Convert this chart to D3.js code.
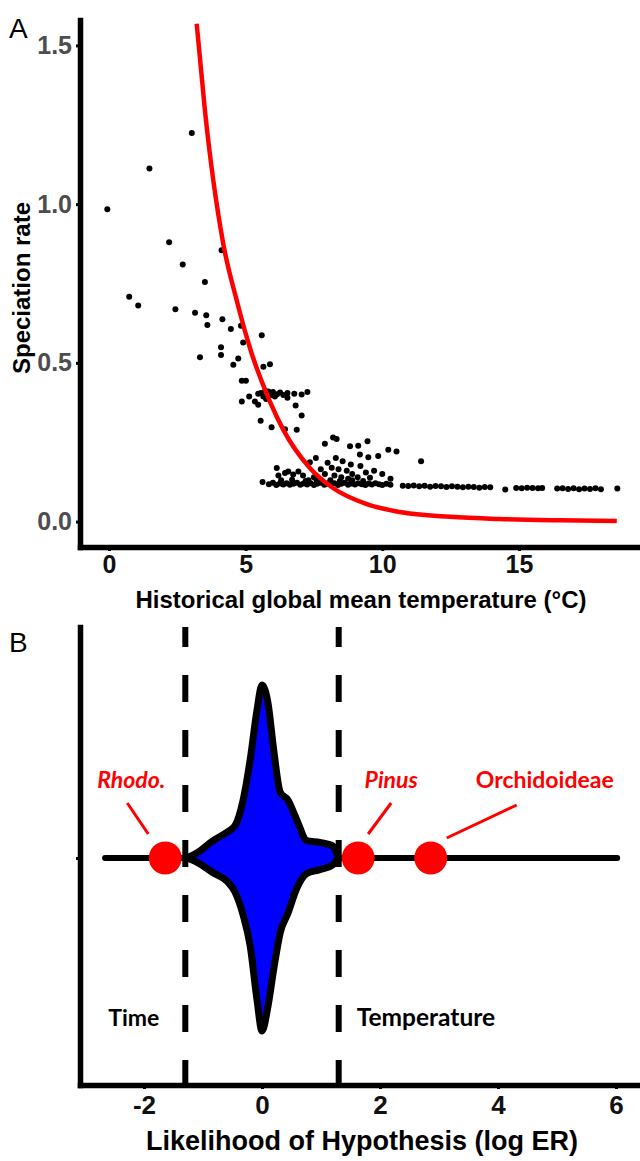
<!DOCTYPE html>
<html>
<head>
<meta charset="utf-8">
<script src="https://cdn.jsdelivr.net/npm/d3@7"></script>
<style>
body { margin: 0; background: #fff; }
svg { display: block; }
.axis text { font-family: "Liberation Sans", Arial, sans-serif; font-weight: bold; font-size: 25px; }
.axisB text { font-size: 26px; }
.axisTitle { font-family: "Liberation Sans", Arial, sans-serif; font-weight: bold; font-size: 24px; fill: #000; }
.panelLabel { font-family: "Liberation Sans", Arial, sans-serif; font-size: 28px; fill: #000; }
.note { font-family: Lato, "Open Sans", sans-serif; font-weight: bold; font-size: 23px; }
</style>
</head>
<body>
<div class="chart"></div>
<script>
var svgWidth = 640;
var svgHeight = 1161;

// ---- panel A data: speciation rate vs historical temperature ----
var temps = [
  3.03, 1.48, -0.06, 2.20, 4.12, 2.70, 3.51, 0.74, 1.07, 2.43, 3.15, 3.56, 3.60, 4.15, 4.46, 4.83, 5.59, 4.91, 4.10, 4.10,
  3.33, 4.73, 4.55, 5.65, 5.89, 4.86, 5.01, 5.56, 5.46, 5.65, 5.83, 5.95, 6.07, 6.26, 6.38, 6.53, 6.53, 6.78, 7.05, 7.26,
  4.86, 5.13, 5.34, 5.46, 6.83, 7.05, 5.55, 5.95, 6.44, 6.87, 5.75, 6.15, 5.72, 6.00, 7.90, 8.20, 8.33, 8.82, 9.12, 9.46,
  10.22, 10.52, 9.18, 9.49, 9.85, 11.42, 7.57, 7.35, 6.14, 8.85, 9.20, 8.55, 8.30, 8.00, 8.15, 8.40, 8.70, 8.90, 9.40, 9.70,
  10.00, 7.75, 7.90, 8.25, 8.50, 8.75, 9.10, 9.55, 10.30, 6.44, 6.56, 6.74, 6.93, 7.10, 6.20, 7.50, 7.30, 8.10, 9.30,
  5.62, 5.85, 6.00, 6.12, 6.25, 6.38, 6.50, 6.62, 6.75, 6.88, 7.00, 7.12, 7.25, 7.38, 7.50, 7.62, 7.75, 7.88, 8.00, 8.12,
  8.25, 8.38, 8.50, 8.62, 8.75, 8.88, 9.00, 9.12, 9.25, 9.38, 9.50, 9.62, 9.75, 9.88, 10.00, 10.15, 10.30,
  6.30, 6.70, 7.20, 7.60, 8.45, 8.90,
  10.75, 10.95, 11.15, 11.35, 11.55, 11.75, 11.95, 12.15, 12.35, 12.55, 12.75, 12.95, 13.15, 13.35, 13.55, 13.75, 13.95,
  14.50, 14.90, 15.10, 15.30, 15.50, 15.70, 15.85,
  16.40, 16.60, 16.80, 17.00, 17.20, 17.40, 17.60, 17.80, 18.00, 18.60
];
var rates = [
  1.224, 1.112, 0.984, 0.880, 0.855, 0.810, 0.755, 0.708, 0.681, 0.669, 0.658, 0.650, 0.619, 0.637, 0.607, 0.617, 0.587, 0.564, 0.549, 0.525,
  0.518, 0.514, 0.494, 0.488, 0.496, 0.444, 0.444, 0.405, 0.403, 0.394, 0.410, 0.399, 0.394, 0.407, 0.399, 0.405, 0.390, 0.403, 0.400, 0.408,
  0.378, 0.394, 0.378, 0.368, 0.366, 0.334, 0.318, 0.297, 0.291, 0.289, 0.386, 0.401, 0.412, 0.408, 0.245, 0.265, 0.260, 0.237, 0.239, 0.253,
  0.226, 0.221, 0.211, 0.203, 0.207, 0.190, 0.200, 0.187, 0.169, 0.180, 0.175, 0.190, 0.200, 0.185, 0.170, 0.165, 0.160, 0.150, 0.155, 0.160,
  0.150, 0.165, 0.150, 0.145, 0.140, 0.135, 0.140, 0.138, 0.135, 0.153, 0.158, 0.148, 0.158, 0.145, 0.145, 0.140, 0.130, 0.130, 0.128,
  0.125, 0.118, 0.122, 0.115, 0.120, 0.117, 0.121, 0.116, 0.119, 0.122, 0.116, 0.120, 0.117, 0.121, 0.115, 0.119, 0.122, 0.116, 0.120, 0.117,
  0.121, 0.115, 0.119, 0.122, 0.116, 0.120, 0.117, 0.121, 0.118, 0.115, 0.120, 0.117, 0.121, 0.118, 0.115, 0.119, 0.116,
  0.130, 0.132, 0.128, 0.130, 0.128, 0.130,
  0.113, 0.112, 0.114, 0.111, 0.113, 0.110, 0.112, 0.111, 0.109, 0.111, 0.110, 0.108, 0.110, 0.109, 0.107, 0.109, 0.108,
  0.101, 0.106, 0.105, 0.107, 0.106, 0.105, 0.106,
  0.104, 0.105, 0.103, 0.105, 0.102, 0.104, 0.103, 0.105, 0.102, 0.104
];
// fitted curve
var fitTemps = [3.21, 3.51, 4.18, 4.67, 5.22, 5.89, 6.38, 7.35, 8.21, 9.43, 10.65, 12.48, 14.30, 16.50, 18.58];
var fitRates = [1.568, 1.296, 0.876, 0.698, 0.530, 0.378, 0.289, 0.169, 0.105, 0.055, 0.030, 0.015, 0.008, 0.004, 0.002];
var xTicksA = [0, 5, 10, 15];
var yTicksA = [0, 0.5, 1.0, 1.5];

// ---- panel B data: distribution of log ER ----
var densityX    = [-1.27, -1.10, -0.83, -0.59, -0.46, -0.32, -0.20, -0.085, 0, 0.10, 0.20, 0.31, 0.44, 0.59, 0.76, 0.98, 1.20, 1.29];
var densityUp   = [0, 0.030, 0.100, 0.150, 0.185, 0.335, 0.570, 0.855, 1.0, 0.900, 0.620, 0.380, 0.335, 0.220, 0.100, 0.090, 0.070, 0];
var densityDown = [0, 0.025, 0.085, 0.135, 0.195, 0.330, 0.510, 0.820, 1.0, 0.860, 0.640, 0.430, 0.320, 0.175, 0.090, 0.068, 0.040, 0];
var erRange = [-2.66, 6.02];
var thresholds = [-1.3, 1.3];
var clades = ["Rhodo.", "Pinus", "Orchidoideae"];
var cladeER = [-1.64, 1.63, 2.86];
var hypotheses = ["Time", "Temperature"];
var xTicksB = [-2, 0, 2, 4, 6];

var svg = d3.select(".chart")
  .append("svg")
  .attr("width", svgWidth)
  .attr("height", svgHeight);

svg.append("rect").attr("width", svgWidth).attr("height", svgHeight).attr("fill", "#fff");

// ================= panel A =================
var xA = d3.scaleLinear().domain([-1.06, 19.43]).range([80, 640]);
var yA = d3.scaleLinear().domain([-0.08, 1.58]).range([547, 20]);

svg.append("text").attr("class", "panelLabel").attr("x", 9).attr("y", 38).text("A");

var pts = temps.map(function(t, i) { return { t: t, r: rates[i] }; });

svg.append("g").selectAll("circle")
  .data(pts)
  .enter().append("circle")
    .attr("cx", function(d) { return xA(d.t); })
    .attr("cy", function(d) { return yA(d.r); })
    .attr("r", 3)
    .attr("fill", "#000");

var fit = fitTemps.map(function(t, i) { return [t, fitRates[i]]; });
svg.append("path")
  .datum(fit)
  .attr("fill", "none")
  .attr("stroke", "#ff0000")
  .attr("stroke-width", 4.5)
  .attr("d", d3.line()
    .x(function(d) { return xA(d[0]); })
    .y(function(d) { return yA(d[1]); })
    .curve(d3.curveMonotoneX));

var axA_y = svg.append("g")
  .attr("class", "axis")
  .attr("transform", "translate(80,0)")
  .call(d3.axisLeft(yA).tickValues(yTicksA).tickFormat(d3.format(".1f")).tickSize(4).tickSizeOuter(0).tickPadding(4));
axA_y.selectAll("text").attr("fill", "#4d4d4d");

var axA_x = svg.append("g")
  .attr("class", "axis")
  .attr("transform", "translate(0,547)")
  .call(d3.axisBottom(xA).tickValues(xTicksA).tickSize(4).tickSizeOuter(0).tickPadding(4));
axA_x.selectAll("text").attr("fill", "#111");

svg.append("text")
  .attr("class", "axisTitle")
  .attr("text-anchor", "middle")
  .attr("transform", "translate(30,288) rotate(-90)")
  .text("Speciation rate");

svg.append("text")
  .attr("class", "axisTitle")
  .attr("text-anchor", "middle")
  .attr("x", 361).attr("y", 608)
  .text("Historical global mean temperature (°C)");

// ================= panel B =================
var xB = d3.scaleLinear().domain([-3.085, 6.407]).range([80, 640]);
var yB = d3.scaleLinear().domain([-1.312, 1.335]).range([1085, 627]);

svg.append("text").attr("class", "panelLabel").attr("x", 9).attr("y", 652).text("B");

// threshold lines
svg.append("g").selectAll("line")
  .data(thresholds)
  .enter().append("line")
    .attr("x1", function(d) { return xB(d); })
    .attr("x2", function(d) { return xB(d); })
    .attr("y1", yB.range()[1])
    .attr("y2", yB.range()[0])
    .attr("stroke", "#000")
    .attr("stroke-width", 6)
    .attr("stroke-dasharray", "27,28")
    .attr("stroke-dashoffset", 7);

// range line
svg.append("line")
  .attr("x1", xB(erRange[0])).attr("x2", xB(erRange[1]))
  .attr("y1", yB(0)).attr("y2", yB(0))
  .attr("stroke", "#000")
  .attr("stroke-width", 6)
  .attr("stroke-linecap", "round");

var dens = densityX.map(function(x, i) { return { x: x, up: densityUp[i], down: densityDown[i] }; });
svg.append("path")
  .datum(dens)
  .attr("fill", "#0000ff")
  .attr("stroke", "#000")
  .attr("stroke-width", 7)
  .attr("stroke-linejoin", "round")
  .attr("d", d3.area()
    .x(function(d) { return xB(d.x); })
    .y0(function(d) { return yB(-d.down); })
    .y1(function(d) { return yB(d.up); })
    .curve(d3.curveMonotoneX));

// clade labels + leader lines (offsets from each point)
var labelLayout = [
  { dx: -34, lx1: -38, ly1: -55, lx2: -17, ly2: -24, italic: true },
  { dx: 33, lx1: 33, ly1: -55, lx2: 10, ly2: -24, italic: true },
  { dx: 114, lx1: 86, ly1: -53, lx2: 16, ly2: -20, italic: false }
];

var cl = svg.append("g");
clades.forEach(function(name, i) {
  var cx = xB(cladeER[i]), cy = yB(0), L = labelLayout[i];
  cl.append("line")
    .attr("x1", cx + L.lx1).attr("y1", cy + L.ly1)
    .attr("x2", cx + L.lx2).attr("y2", cy + L.ly2)
    .attr("stroke", "#ff0000").attr("stroke-width", 3);
  cl.append("text")
    .attr("class", "note")
    .attr("x", cx + L.dx).attr("y", cy - 70)
    .attr("text-anchor", "middle")
    .attr("fill", "#ff0000")
    .style("font-style", L.italic ? "italic" : "normal")
    .text(name);
});

cl.selectAll("circle")
  .data(cladeER)
  .enter().append("circle")
    .attr("cx", function(d) { return xB(d); })
    .attr("cy", yB(0))
    .attr("r", 16.5)
    .attr("fill", "#ff0000");

// hypothesis labels either side of thresholds
svg.append("text").attr("class", "note").attr("fill", "#000")
  .attr("text-anchor", "end").attr("x", xB(thresholds[0]) - 26).attr("y", 1026).text(hypotheses[0]);
svg.append("text").attr("class", "note").attr("fill", "#000")
  .attr("text-anchor", "start").attr("x", xB(thresholds[1]) + 18).attr("y", 1026)
  .style("font-size", "24.5px").text(hypotheses[1]);

svg.append("g")
  .attr("class", "axis")
  .attr("transform", "translate(80,0)")
  .call(d3.axisLeft(yB).tickValues([0]).tickFormat("").tickSize(4).tickSizeOuter(0));

var axB_x = svg.append("g")
  .attr("class", "axis axisB")
  .attr("transform", "translate(0,1085)")
  .call(d3.axisBottom(xB).tickValues(xTicksB).tickFormat(function(d) { return String(d); })
    .tickSize(4).tickSizeOuter(0).tickPadding(7));
axB_x.selectAll("text").attr("fill", "#111");

svg.append("text")
  .attr("class", "axisTitle")
  .attr("text-anchor", "middle")
  .style("font-size", "27px")
  .attr("x", 362).attr("y", 1150)
  .text("Likelihood of Hypothesis (log ER)");

// heavy axis lines
svg.selectAll(".axis .domain")
  .attr("stroke", "#000")
  .attr("stroke-width", 5.5)
  .attr("stroke-linecap", "square");
svg.selectAll(".axis .tick line")
  .attr("stroke", "#000")
  .attr("stroke-width", 3);
</script>
</body>
</html>
